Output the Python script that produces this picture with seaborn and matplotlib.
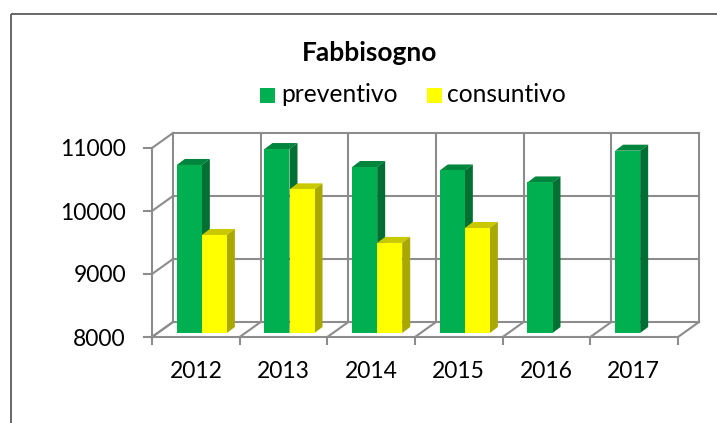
import matplotlib
matplotlib.use('Agg')
import matplotlib.pyplot as plt
from matplotlib.patches import Polygon, Rectangle
from matplotlib.transforms import IdentityTransform
import pandas as pd
import seaborn as sns

anni = ['2012', '2013', '2014', '2015', '2016', '2017']
preventivo = [10667, 10920, 10635, 10580, 10390, 10894]
consuntivo = [9556, 10280, 9430, 9667, None, None]
tick_y = [8000, 9000, 10000, 11000]

W, H = 717, 423
VERDE, GIALLO = '#00b050', '#ffff00'
SCURO = {VERDE: ('#00853c', '#006f32'), GIALLO: ('#c9c900', '#a8a800')}
GRIGIO = '#8c8c8c'

sns.set_theme(style='white')
plt.rcParams['font.family'] = ['Lato', 'DejaVu Sans']

df = pd.DataFrame({'anno': anni * 2,
                   'valore': preventivo + consuntivo,
                   'serie': ['preventivo'] * 6 + ['consuntivo'] * 6})

fig = plt.figure(figsize=(W / 100, H / 100), dpi=100)
# assi allineati alla faccia frontale delle barre (pixel)
ax = fig.add_axes([158 / W, (H - 333) / H, 526 / W, 189 / H])
sns.barplot(data=df, x='anno', y='valore', hue='serie', order=anni,
            hue_order=['preventivo', 'consuntivo'],
            palette=[VERDE, GIALLO], width=0.571, saturation=1,
            legend=False, ax=ax, zorder=5, linewidth=0)
ax.set_xlim(-0.5, 5.5)
ax.set_ylim(8000, 11000)
ax.patch.set_alpha(0)
sns.despine(ax=ax, left=True, bottom=True)
ax.set_xlabel('')
ax.set_ylabel('')
ax.set_xticks([])
ax.set_yticks([])

ax0 = fig.add_axes([0, 0, 1, 1], zorder=-1)
ax0.set_xlim(0, W)
ax0.set_ylim(H, 0)
ax0.axis('off')
ax0.add_patch(Rectangle((11, 14), W - 2, H, fill=False, ec='#666666', lw=1.4))

a = ax.transData.transform


def linea(xs, ys):
    ax.add_line(plt.Line2D(xs, ys, color=GRIGIO, lw=1.5, transform=IdentityTransform(),
                           zorder=1, clip_on=False, solid_capstyle='projecting'))


# griglia 3D: parete di fondo (+15,+11), piano frontale (-6,-4)
for v in tick_y:
    p = a((-0.5, v))
    q = a((5.5, v))
    linea([p[0] + 15, q[0] + 15], [p[1] + 11, q[1] + 11])
    linea([p[0] - 6, p[0] + 15], [p[1] - 4, p[1] + 11])
    linea([p[0] - 14, p[0] - 6], [p[1] - 4, p[1] - 4])
p0, p1, p2 = a((-0.5, 8000)), a((5.5, 8000)), a((-0.5, 11000))
linea([p0[0] - 6, p1[0] - 6], [p0[1] - 4, p1[1] - 4])
linea([p0[0] - 6, p2[0] - 6], [p0[1] - 4, p2[1] - 4])
for i in range(7):
    q = a((i - 0.5, 8000))
    r = a((i - 0.5, 11000))
    linea([q[0] + 15, r[0] + 15], [q[1] + 11, r[1] + 11])
    linea([q[0] - 6, q[0] + 15], [q[1] - 4, q[1] + 11])
    linea([q[0] - 6, q[0] - 6], [q[1] - 4, q[1] - 11])

# facce laterali e superiori delle barre
for bar in ax.patches:
    if bar.get_height() != bar.get_height() or bar.get_width() == 0:
        continue
    col = matplotlib.colors.to_hex(bar.get_facecolor())
    top, lato = SCURO[col]
    xa, xb = bar.get_x(), bar.get_x() + bar.get_width()
    pa, pb = a((xa, bar.get_height() + bar.get_y())), a((xb, bar.get_height() + bar.get_y()))
    pc = a((xb, 8000))
    ax.add_patch(Polygon([pa, pb, pb + (8, 6), pa + (8, 6)], fc=top, ec='none',
                         transform=IdentityTransform(), zorder=4, clip_on=False))
    ax.add_patch(Polygon([pb, pc, pc + (8, 6), pb + (8, 6)], fc=lato, ec='none',
                         transform=IdentityTransform(), zorder=4, clip_on=False))

# testi
FS = 16.5
ax0.text(370, 53, 'Fabbisogno', ha='center', va='center', fontsize=19, fontweight='bold', color='black')
ax0.add_patch(Rectangle((260, 88), 15, 15, fc=VERDE, ec='none'))
ax0.text(281, 95, 'preventivo', ha='left', va='center', fontsize=17.7, color='black')
ax0.add_patch(Rectangle((427, 88), 15, 15, fc=GIALLO, ec='none'))
ax0.text(447, 95, 'consuntivo', ha='left', va='center', fontsize=17.7, color='black')
for v in tick_y:
    y = 333 - (v - 8000) * 63 / 1000 + 4
    ax0.text(126, y + 2, str(v), ha='right', va='center', fontsize=FS, color='black')
for i, t in enumerate(anni):
    ax0.text(196 + i * 87.5, 372, t, ha='center', va='center', fontsize=FS, color='black')

fig.savefig('out.png', dpi=100)
